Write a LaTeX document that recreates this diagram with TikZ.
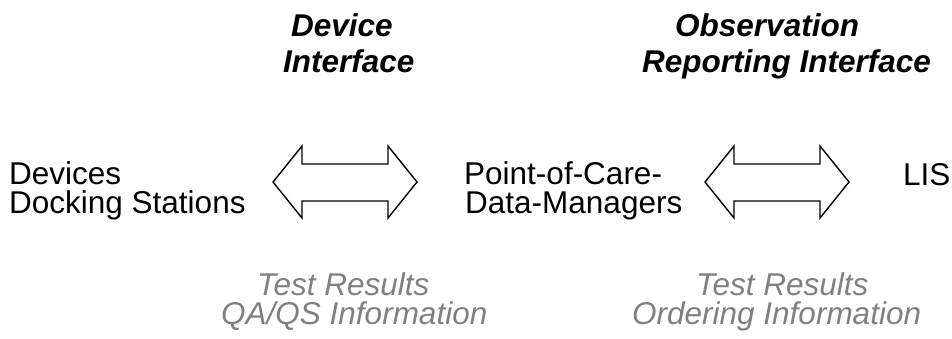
\documentclass[tikz,border=0pt]{standalone}
\usepackage{fontspec}
\setmainfont{Liberation Sans}
\begin{document}
\begin{tikzpicture}[x=1pt,y=1pt,
  lbl/.style={anchor=base west,inner sep=0pt,font=\fontsize{31.5}{31.5}\selectfont},
  hdr/.style={lbl,font=\fontsize{31.5}{31.5}\selectfont\bfseries\itshape},
  info/.style={lbl,text=black!50,font=\fontsize{31.5}{31.5}\selectfont\itshape},
  dblarrow/.style={draw=black,line width=1.4pt,line join=miter,fill=white}]
\useasboundingbox (0,0) rectangle (952,338);
% headers
\node[hdr] (h1a) at (291,301) {Device};
\node[hdr] (h1b) at (283,265) {Interface};
\node[hdr] (h2a) at (675,301) {Observation};
\node[hdr] (h2b) at (642,265) {Reporting Interface};
% main labels
\node[lbl] (dev1) at (9,154) {Devices};
\node[lbl] (dev2) at (9,125) {Docking Stations};
\node[lbl] (poc1) at (464,154) {Point-of-Care-};
\node[lbl] (poc2) at (465,125) {Data-Managers};
\node[lbl] (lis) at (903,153) {LIS};
% info labels
\node[info] (i1a) at (257,43) {Test Results};
\node[info] (i1b) at (221,14) {QA/QS Information};
\node[info] (i2a) at (696,43) {Test Results};
\node[info] (i2b) at (632,14) {Ordering Information};
% double arrows
\draw[dblarrow] (273,156) -- (302,192) -- (302,174) -- (388,174) -- (388,192)
  -- (417,156) -- (388,120) -- (388,137) -- (302,137) -- (302,120) -- cycle;
\draw[dblarrow] (705,156) -- (734,192) -- (734,174) -- (820,174) -- (820,192)
  -- (849,156) -- (820,120) -- (820,137) -- (734,137) -- (734,120) -- cycle;
\end{tikzpicture}
\end{document}
